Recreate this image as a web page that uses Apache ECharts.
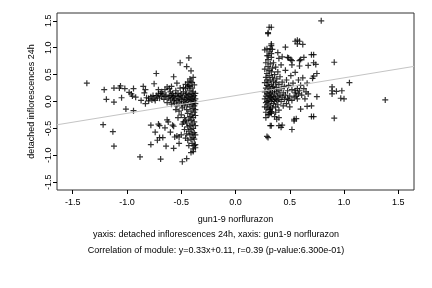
<!DOCTYPE html>
<html>
<head>
<meta charset="utf-8">
<script src="https://cdn.jsdelivr.net/npm/echarts@6/dist/echarts.min.js"></script>
<style>html,body{margin:0;padding:0;background:#fff}#c{width:432px;height:288px}</style>
</head>
<body>
<div id="c"></div>
<script>
// ---- data ----
var xTicks = [-1.5, -1.0, -0.5, 0.0, 0.5, 1.0, 1.5];
var yTicks = [-1.5, -1.0, -0.5, 0.0, 0.5, 1.0, 1.5];
var xLabel = 'gun1-9 norflurazon';
var yLabel = 'detached inflorescences 24h';
var subtitle1 = 'yaxis: detached inflorescences 24h, xaxis: gun1-9 norflurazon';
var subtitle2 = 'Correlation of module: y=0.33x+0.11, r=0.39 (p-value:6.300e-01)';
var slope = 0.33, intercept = 0.11;
var axisMin = -1.645, axisMax = 1.645;

var leftCluster = [
[-1.37,0.34],[-1.21,0.22],[-1.19,0.04],[-1.12,0.25],[-1.12,-0.01],[-1.07,0.25],[-1.06,0.29],[-1.02,0.24],[-1.05,0.07],[-0.98,0.17],[-0.96,0.14],[-0.94,0.24],[-0.95,0.10],[-0.92,0.08],[-1.01,-0.14],[-0.94,-0.17],[-1.22,-0.43],[-1.13,-0.56],[-1.12,-0.83],[-0.88,-1.03],
[-0.85,0.28],[-0.83,0.22],[-0.84,0.16],[-0.82,0.07],[-0.87,0.02],[-0.83,-0.04],[-0.80,0.01],[-0.75,0.33],[-0.73,0.52],[-0.76,0.11],[-0.73,0.11],[-0.71,0.22],
[-0.78,-0.44],[-0.74,-0.57],[-0.71,-0.42],[-0.70,-0.45],[-0.72,-0.72],[-0.70,-0.67],[-0.67,-0.67],[-0.78,-0.80],[-0.69,-1.07],[-0.64,-0.83],[-0.65,-0.49],[-0.63,-0.34],[-0.62,-0.38],[-0.58,-0.44],[-0.57,-0.46],[-0.60,-0.57],[-0.56,-0.66],[-0.57,-0.87],[-0.54,-0.64],[-0.52,-0.66],[-0.52,-0.78],[-0.49,-1.12],[-0.45,-1.06],
[-0.51,0.72],[-0.43,0.81],[-0.45,0.65],[-0.41,0.57],[-0.57,0.46],[-0.54,0.34],
[-0.80,0.06],[-0.78,0.09],[-0.77,0.03],[-0.75,0.05],[-0.74,0.02],[-0.72,0.08],[-0.71,0.14],[-0.70,0.06],[-0.69,0.15],[-0.68,0.10],[-0.67,0.14],[-0.66,0.04],[-0.65,0.09],[-0.64,0.12],[-0.63,-0.02],[-0.62,0.06],[-0.61,0.10],[-0.61,0.24],[-0.60,0.18],[-0.60,0.03],[-0.59,0.11],[-0.59,-0.05],[-0.58,0.07],[-0.58,0.15],[-0.57,0.01],[-0.57,0.10],[-0.56,-0.03],[-0.56,0.05],[-0.55,0.12],[-0.55,0.20],[-0.54,0.02],[-0.54,-0.08],[-0.53,0.09],[-0.53,0.15],[-0.52,-0.01],[-0.52,0.05],[-0.51,0.11],[-0.51,0.25],[-0.50,-0.05],[-0.50,0.03],[-0.50,0.14],[-0.49,0.08],[-0.49,-0.12],[-0.48,0.00],[-0.48,0.18],[-0.47,0.06],[-0.47,-0.08],[-0.46,0.12],[-0.46,-0.02],[-0.46,0.24],[-0.45,0.04],[-0.45,-0.15],[-0.45,0.15],[-0.44,0.08],[-0.44,-0.05],[-0.44,-0.22],[-0.43,0.02],[-0.43,0.13],[-0.43,0.30],[-0.42,-0.10],[-0.42,0.06],[-0.42,-0.28],[-0.42,0.20],[-0.41,0.00],[-0.41,0.10],[-0.41,-0.18],[-0.41,-0.35],[-0.40,0.04],[-0.40,0.14],[-0.40,-0.06],[-0.40,-0.25],[-0.40,0.25],[-0.40,-0.42],[-0.39,0.08],[-0.39,-0.02],[-0.39,-0.13],[-0.39,0.18],[-0.39,-0.30],[-0.39,-0.50],[-0.38,0.01],[-0.38,0.11],[-0.38,-0.08],[-0.38,-0.20],[-0.38,0.31],[-0.38,-0.38],[-0.38,-0.58],[-0.38,-0.70],[-0.37,0.05],[-0.37,-0.04],[-0.37,0.15],[-0.37,-0.15],[-0.37,-0.26],[-0.37,-0.45],[-0.37,-0.62],[-0.37,-0.80],[-0.37,-0.86],
[-0.47,-0.30],[-0.46,-0.36],[-0.45,-0.40],[-0.44,-0.47],[-0.43,-0.33],[-0.43,-0.55],[-0.42,-0.62],[-0.42,-0.45],[-0.41,-0.70],[-0.41,-0.52],[-0.40,-0.78],[-0.40,-0.60],[-0.39,-0.88],[-0.39,-0.67],[-0.39,-0.93],[-0.38,-0.82],[-0.41,-0.95],[-0.43,-0.82],[-0.44,-0.72],[-0.45,-0.60],[-0.48,-0.38],[-0.50,-0.25],[-0.52,-0.18],[-0.53,-0.30],[-0.49,-0.42],[-0.55,-0.15],[-0.47,-0.52],[-0.46,-0.68],[-0.50,-0.62],
[-0.42,0.42],[-0.41,0.38],[-0.40,0.35],[-0.44,0.36],[-0.39,0.45],[-0.42,0.28],[-0.46,0.32],[-0.48,0.26],[-0.44,0.27],[-0.65,0.22],[-0.63,0.27],[-0.68,0.18],[-0.59,0.28]
];

var rightCluster = [
[0.79,1.50],[0.31,1.38],[0.33,1.38],[0.30,1.28],[0.55,1.12],[0.57,1.14],[0.59,1.12],[0.57,1.07],[0.62,1.06],[0.46,1.01],[0.33,1.07],[0.32,0.98],[0.34,0.97],[0.70,0.87],[0.72,0.72],[0.74,0.69],[0.91,0.73],[0.48,0.82],[0.49,0.81],[0.52,0.76],[0.59,0.76],[0.63,0.82],[0.75,0.52],[0.72,0.47],[0.71,0.43],[1.05,0.35],[0.89,0.27],[0.89,0.20],[0.89,0.14],[0.93,0.19],[0.98,0.20],[0.97,0.06],[1.00,0.05],[1.38,0.03],[0.75,0.09],[0.70,-0.08],[0.72,-0.28],[0.91,-0.31],[0.54,-0.33],[0.56,-0.32],[0.43,-0.44],[0.33,-0.45],[0.52,-0.52],[0.29,-0.65],
[0.30,1.26],[0.33,1.04],[0.29,0.98],[0.27,0.96],[0.33,0.89],[0.30,0.85],[0.39,0.91],[0.43,0.83],[0.40,0.80],[0.51,0.78],[0.60,0.78],[0.72,0.87],[0.52,0.68],[0.59,0.66],[0.67,0.67],[0.55,0.54],
[0.32,-0.14],[0.33,-0.19],[0.40,-0.30],[0.37,-0.20],[0.32,-0.45],[0.40,-0.45],[0.42,-0.48],[0.54,-0.36],[0.70,-0.28],[0.60,-0.14],[0.66,-0.09],[0.30,-0.67],[0.32,-0.20],[0.31,-0.24],[0.38,-0.33],
[0.27,0.05],[0.27,0.18],[0.27,-0.10],[0.27,0.35],[0.27,0.60],[0.28,-0.02],[0.28,0.10],[0.28,0.25],[0.28,0.45],[0.28,0.72],[0.28,-0.20],[0.28,-0.30],[0.29,0.00],[0.29,0.14],[0.29,0.30],[0.29,0.52],[0.29,0.85],[0.29,-0.12],[0.29,0.40],[0.30,0.06],[0.30,0.20],[0.30,-0.05],[0.30,0.65],[0.30,0.36],[0.30,-0.25],[0.30,0.78],[0.31,0.02],[0.31,0.12],[0.31,0.28],[0.31,0.48],[0.31,-0.15],[0.31,0.92],[0.31,0.58],[0.32,0.08],[0.32,0.22],[0.32,-0.08],[0.32,0.40],[0.32,0.70],[0.32,0.16],[0.33,0.00],[0.33,0.32],[0.33,0.55],[0.33,-0.22],[0.33,0.10],[0.33,0.82],[0.34,0.25],[0.34,0.04],[0.34,0.45],[0.34,-0.12],[0.34,0.62],[0.34,0.18],[0.35,0.08],[0.35,0.38],[0.35,-0.04],[0.35,0.72],[0.35,0.28],[0.36,0.14],[0.36,0.50],[0.36,0.00],[0.36,-0.28],[0.36,0.22],[0.37,0.06],[0.37,0.35],[0.37,-0.10],[0.37,0.64],[0.38,0.18],[0.38,0.02],[0.38,0.42],[0.38,0.26],[0.39,0.10],[0.39,-0.06],[0.39,0.55],[0.40,0.20],[0.40,0.04],[0.40,0.32],[0.40,-0.16],[0.41,0.12],[0.41,0.46],[0.42,0.00],[0.42,0.24],[0.42,0.68],[0.43,0.08],[0.43,0.36],[0.44,-0.08],[0.44,0.16],[0.45,0.28],[0.45,0.04],[0.46,0.58],[0.46,0.12],[0.47,-0.04],[0.47,0.40],[0.48,0.20],[0.48,0.06],[0.49,0.30],[0.49,0.03],[0.50,0.10],[0.50,-0.10],[0.51,0.48],[0.52,0.02],[0.52,0.22],[0.53,0.34],[0.54,0.08],[0.55,0.16],[0.55,0.20],[0.56,0.10],[0.57,0.24],[0.57,0.05],[0.58,0.14],[0.58,0.40],[0.59,0.20],[0.60,0.30],[0.61,0.12],[0.62,0.44],[0.63,0.24],[0.64,0.05],[0.65,0.18],[0.66,0.34],[0.67,0.14]
];

// ---- chart ----
var points = leftCluster.concat(rightCluster);
var fitLine = [[axisMin, slope * axisMin + intercept], [axisMax, slope * axisMax + intercept]];
var FONT = '"Liberation Sans", Arial, Helvetica, sans-serif';
var plus = 'path://M4,0H6V4H10V6H6V10H4V6H0V4H4Z';

var chart = echarts.init(document.getElementById('c'), null, {renderer: 'canvas'});
chart.setOption({
  animation: false,
  backgroundColor: '#ffffff',
  title: [
    {text: subtitle1, left: 'center', top: 230, padding: 0, textStyle: {fontFamily: FONT, fontSize: 9, fontWeight: 'normal', color: '#000'}},
    {text: subtitle2, left: 'center', top: 246, padding: 0, textStyle: {fontFamily: FONT, fontSize: 9, fontWeight: 'normal', color: '#000'}}
  ],
  grid: {left: 57, right: 18, top: 13, bottom: 98, show: true, borderColor: '#333', borderWidth: 1, backgroundColor: 'transparent'},
  xAxis: {
    type: 'value', min: axisMin, max: axisMax,
    name: xLabel, nameLocation: 'middle', nameGap: 25,
    nameTextStyle: {fontFamily: FONT, fontSize: 9, color: '#000'},
    axisLine: {show: false, onZero: false},
    axisTick: {show: true, length: 4, lineStyle: {color: '#000'}, customValues: xTicks},
    axisLabel: {margin: 8, fontFamily: FONT, fontSize: 9, color: '#000', customValues: xTicks,
      formatter: function (v) { return v.toFixed(1); }},
    splitLine: {show: false}
  },
  yAxis: {
    type: 'value', min: axisMin, max: axisMax,
    name: yLabel, nameLocation: 'middle', nameGap: 16, nameRotate: 90,
    nameTextStyle: {fontFamily: FONT, fontSize: 9, color: '#000'},
    axisLine: {show: false, onZero: false},
    axisTick: {show: true, length: 4, lineStyle: {color: '#000'}, customValues: yTicks},
    axisLabel: {margin: 4, rotate: 90, fontFamily: FONT, fontSize: 9, color: '#000', customValues: yTicks,
      formatter: function (v) { return v.toFixed(1); }},
    splitLine: {show: false}
  },
  series: [
    {type: 'scatter', data: points, symbol: plus, symbolSize: 6, itemStyle: {color: '#000'}, silent: true},
    {type: 'line', data: fitLine, symbol: 'none', lineStyle: {color: '#c4c4c4', width: 1}, silent: true, z: 3}
  ]
});
</script>
</body>
</html>
